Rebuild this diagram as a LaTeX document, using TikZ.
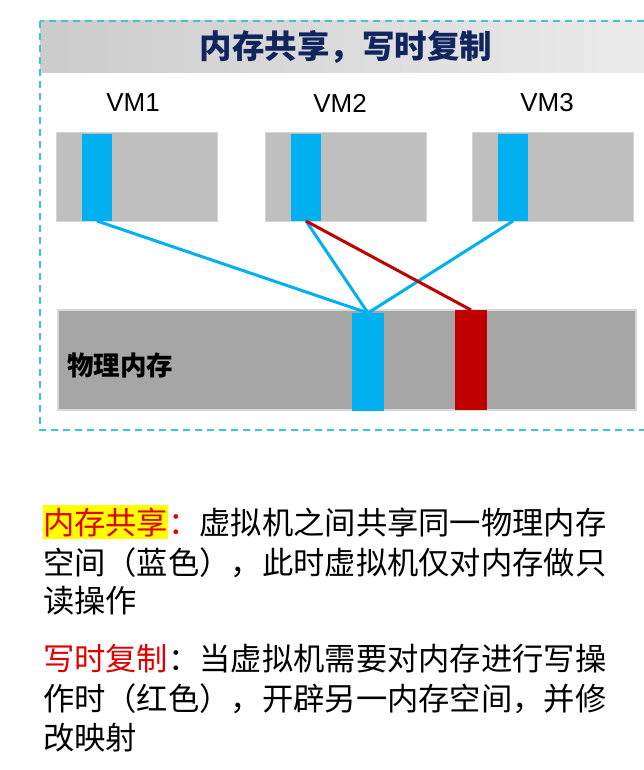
\documentclass[tikz,border=0pt]{standalone}
\usepackage{fontspec}
\setmainfont{Liberation Sans}
\newfontfamily\cjk{Noto Sans CJK SC}
\definecolor{dashc}{RGB}{64,200,200}
\definecolor{bannerL}{RGB}{204,204,204}
\definecolor{bannerR}{RGB}{236,236,236}
\definecolor{navy}{RGB}{16,37,94}
\definecolor{vmgray}{RGB}{191,191,191}
\definecolor{vmedge}{RGB}{212,212,212}
\definecolor{pmgray}{RGB}{166,166,166}
\definecolor{pmedge}{RGB}{217,217,217}
\definecolor{mblue}{RGB}{0,176,240}
\definecolor{mred}{RGB}{192,0,0}
\definecolor{tred}{RGB}{225,0,0}
\definecolor{hlyellow}{RGB}{255,255,0}
\tikzset{
  box/.style={rectangle, inner sep=0pt, outer sep=0pt},
  vmbox/.style={box, fill=vmgray, draw=vmedge, line width=1pt, minimum width=161pt, minimum height=88pt},
  bluebar/.style={box, fill=mblue, minimum width=30pt},
  redbar/.style={box, fill=mred, minimum width=32pt},
  physmem/.style={box, fill=pmgray, draw=pmedge, line width=1.5pt, minimum width=578pt, minimum height=100pt},
  vmlabel/.style={font=\fontsize{26}{26}\selectfont, inner sep=0pt},
  link/.style={line width=3pt},
  para/.style={font=\cjk\fontsize{31.3}{31.3}\selectfont, inner sep=0pt, outer sep=0pt, anchor=base west},
}
\begin{document}
\begin{tikzpicture}[x=1pt,y=-1pt]
\useasboundingbox (0,0) rectangle (644,770);
\clip (0,0) rectangle (644,770);
% banner
\node[box, anchor=north west, minimum width=625pt, minimum height=52pt, left color=bannerL, right color=bannerR] (banner) at (40,21) {};
\node[inner sep=0pt, text=navy, font=\cjk\bfseries\fontsize{32.5}{32.5}\selectfont] (title) at (346,47) {内存共享，写时复制};
% dashed frame
\draw[dashc, line width=2pt, dash pattern=on 7pt off 5pt] (40,21) rectangle (665,430);
% VM labels
\node[vmlabel] (l1) at (133,103) {VM1};
\node[vmlabel] (l2) at (340,103) {VM2};
\node[vmlabel] (l3) at (547,103) {VM3};
% VM boxes
\node[vmbox] (vm1) at (137,177) {};
\node[vmbox] (vm2) at (346,177) {};
\node[vmbox] (vm3) at (553,177) {};
\node[bluebar, minimum height=87pt] (b1) at (97,177.5) {};
\node[bluebar, minimum height=87pt] (b2) at (306,177.5) {};
\node[bluebar, minimum height=87pt] (b3) at (513,177.5) {};
% physical memory
\node[physmem] (pm) at (347,360) {};
\node[bluebar, minimum width=32pt, minimum height=98pt] (pb) at (368,362) {};
\node[redbar, minimum height=100pt] (pr) at (471,360) {};
\node[inner sep=0pt, anchor=west, font=\cjk\bfseries\fontsize{26.5}{26.5}\selectfont] (pmlabel) at (67,365) {物理内存};
% links
\draw[link, mblue] (b1.south) -- (pb.north);
\draw[link, mblue] (b2.south) -- (pb.north);
\draw[link, mblue] (b3.south) -- (pb.north);
\draw[link, mred] (b2.south) -- (pr.north);
% text paragraphs
\node[para, fill=hlyellow, text=tred, text height=29pt, text depth=5pt] (k1) at (43,534) {内存共享};
\node[para] (p1a) at (k1.base east) {\textcolor{tred}{：}虚拟机之间共享同一物理内存};
\node[para] (p1b) at (43,574) {空间（蓝色），此时虚拟机仅对内存做只};
\node[para] (p1c) at (43,612) {读操作};
\node[para, text=tred] (k2) at (43,670) {写时复制};
\node[para] (p2a) at (k2.base east) {：当虚拟机需要对内存进行写操};
\node[para] (p2b) at (43,710) {作时（红色），开辟另一内存空间，并修};
\node[para] (p2c) at (43,749) {改映射};
\end{tikzpicture}
\end{document}
